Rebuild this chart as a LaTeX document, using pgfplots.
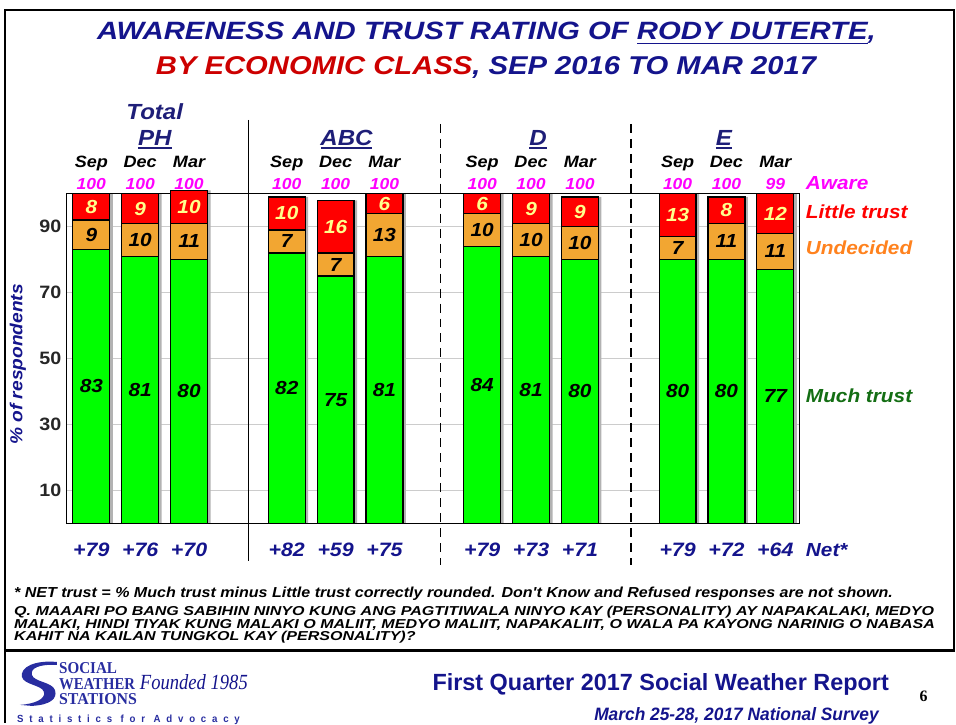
\documentclass[border=0pt]{standalone}
\usepackage{graphicx}
\usepackage{pgfplots}
\pgfplotsset{compat=1.18}
\usepackage{pgfplotstable}
\usepackage{fontspec}
\setmainfont{Liberation Sans}[FakeStretch=1.1]
\newfontfamily\plainsans{Liberation Sans}
\newfontfamily\qfont{Liberation Sans}[FakeStretch=1.24]
\newfontfamily\serifb{Liberation Serif}
\newcommand\fs[1]{\fontsize{#1}{#1}\selectfont}
\definecolor{navy}{RGB}{20,20,140}
\definecolor{tred}{RGB}{204,0,0}
\definecolor{bgreen}{RGB}{0,255,0}
\definecolor{borange}{RGB}{242,166,50}
\definecolor{bred}{RGB}{255,0,0}
\definecolor{lyellow}{RGB}{255,255,140}
\definecolor{mag}{RGB}{255,0,255}
\definecolor{dgreen}{RGB}{20,110,20}
\definecolor{uorange}{RGB}{255,130,30}
\definecolor{grp}{RGB}{30,30,120}
\definecolor{swsblue}{RGB}{40,45,160}

\pgfplotstableread{
x g u l aware net
0 83 9 8 100 79
1 81 10 9 100 76
2 80 11 10 100 70
4 82 7 10 100 82
5 75 7 16 100 59
6 81 13 6 100 75
8 84 10 6 100 79
9 81 10 9 100 73
10 80 10 9 100 71
12 80 7 13 100 79
13 80 11 8 100 72
14 77 11 12 99 64
}\data

\pgfplotsset{base/.style={at={(67bp,-524bp)}, anchor=south west, scale only axis,
  width=734bp, height=330bp, xmin=-0.5, xmax=14.5, ymin=0, ymax=100, clip=false}}

\begin{document}
\begin{tikzpicture}
\begin{scope}[x=1bp,y=-1bp]
\path (0,0) rectangle (956,724);
\end{scope}

% grid + shadows
\begin{axis}[base, ybar, bar width=37bp,
  ytick={10,30,50,70,90}, yticklabels={}, xtick=\empty, major tick length=0,
  axis line style={draw=none}, ymajorgrids, grid style={gray!40, line width=0.9bp}]
\addplot[fill=gray!60, draw=none, bar shift=3bp] table[x=x, y expr=\thisrow{g}+\thisrow{u}+\thisrow{l}] {\data};
\end{axis}

% stacked bars
\begin{axis}[base, ybar stacked, bar width=37bp,
  /pgf/number format/assume math mode=true,
  ytick={10,30,50,70,90}, major tick length=0,
  axis line style={black, line width=0.8bp},
  yticklabel style={font=\bfseries\fs{18}, text=black!85, xshift=-2bp},
  xtick={0,1,2,4,5,6,8,9,10,12,13,14},
  xticklabels={Sep,Dec,Mar,Sep,Dec,Mar,Sep,Dec,Mar,Sep,Dec,Mar},
  xticklabel pos=right,
  xticklabel style={anchor=base, yshift=26bp, font=\bfseries\itshape\fs{16.5}, text=black}]
\addplot[fill=bgreen, draw=black, line width=1.2bp] table[x=x, y=g] {\data};
\addplot[fill=borange, draw=black, line width=1.2bp] table[x=x, y=u] {\data};
\addplot[fill=bred, draw=black, line width=1.2bp] table[x=x, y=l] {\data};
\end{axis}

% labels
\begin{axis}[base, hide axis, point meta=explicit symbolic]
\addplot[draw=none, nodes near coords,
  every node near coord/.append style={anchor=center, font=\bfseries\itshape\fs{19}, text=black}]
  table[x=x, y expr=\thisrow{g}/2, meta=g] {\data};
\addplot[draw=none, nodes near coords,
  every node near coord/.append style={anchor=center, font=\bfseries\itshape\fs{19}, text=black}]
  table[x=x, y expr=\thisrow{g}+\thisrow{u}/2, meta=u] {\data};
\addplot[draw=none, nodes near coords,
  every node near coord/.append style={anchor=center, font=\bfseries\itshape\fs{19}, text=lyellow}]
  table[x=x, y expr=\thisrow{g}+\thisrow{u}+\thisrow{l}/2, meta=l] {\data};
\addplot[draw=none, nodes near coords,
  every node near coord/.append style={anchor=base, font=\bfseries\itshape\fs{16}, text=mag}]
  table[x=x, y expr=101.2, meta=aware] {\data};
\addplot[draw=none, nodes near coords={+\pgfplotspointmeta},
  every node near coord/.append style={anchor=base, font=\bfseries\itshape\fs{19.5}, text=navy}]
  table[x=x, y expr=-10, meta=net] {\data};
\end{axis}

\begin{scope}[x=1bp,y=-1bp]
% slide frame
\draw[line width=2bp] (5,724) -- (5,10) -- (955,10) -- (955,652);
\draw[line width=3bp] (4,652) -- (956,652);
% title
\node[anchor=base west, inner sep=0, text=navy] at (97,40)
  {\resizebox{780bp}{17.5bp}{\plainsans\bfseries\itshape AWARENESS AND TRUST RATING OF \underline{RODY DUTERTE},}};
\node[anchor=base west, inner sep=0] at (156,75)
  {\resizebox{661bp}{18bp}{\plainsans\bfseries\itshape\textcolor{tred}{BY ECONOMIC CLASS}\textcolor{navy}{, SEP 2016 TO MAR 2017}}};
% group names
\begin{scope}[every node/.style={anchor=base, inner sep=0, text=grp, font=\bfseries\itshape\fs{22}}]
\node at (155,120) {Total};
\node at (155,146) {PH};
\node at (347,146) {ABC};
\node at (539,146) {D};
\node at (725,146) {E};
\end{scope}
\draw[grp, line width=2bp] (138,148.5) -- (172,148.5) (322,148.5) -- (373,148.5)
  (530,148.5) -- (548,148.5) (717,148.5) -- (733,148.5);
% separators
\draw[line width=1.5bp] (249,120) -- (249,562);
\draw[line width=1.5bp, dash pattern=on 9bp off 6bp] (441,124) -- (441,566);
\draw[line width=1.5bp, dash pattern=on 9bp off 6bp] (632,124) -- (632,566);
% y label
\node[rotate=90, text=navy, font=\bfseries\itshape\fs{17.5}] at (18,365) {\% of respondents};
% right labels
\begin{scope}[every node/.style={anchor=base west, inner sep=0, font=\bfseries\itshape\fs{19}}]
\node[text=mag] at (807,190) {Aware};
\node[text=bred] at (807,219) {Little trust};
\node[text=uorange] at (807,255) {Undecided};
\node[text=dgreen] at (807,403) {Much trust};
\node[text=navy] at (807,557) {Net*};
\end{scope}
% footnotes
\node[anchor=base west, inner sep=0] at (14,598)
  {\resizebox{880bp}{10.5bp}{\plainsans\bfseries\itshape * NET trust = \% Much trust minus Little trust correctly rounded.  Don't Know and Refused responses  are not shown.}};
\begin{scope}[every node/.style={anchor=base west, inner sep=0, font=\qfont\bfseries\itshape\fs{13}}]
\node at (14,616) {Q. MAAARI PO BANG SABIHIN NINYO KUNG ANG PAGTITIWALA NINYO KAY (PERSONALITY) AY NAPAKALAKI, MEDYO};
\node at (14,629) {MALAKI, HINDI TIYAK KUNG MALAKI O MALIIT, MEDYO MALIIT, NAPAKALIIT, O WALA PA KAYONG NARINIG O NABASA};
\node at (14,642) {KAHIT NA KAILAN TUNGKOL KAY (PERSONALITY)?};
\end{scope}
% footer
\fill[swsblue] (57,663) .. controls (35,661) and (20,668) .. (22,678) .. controls (24,686) and (42,686) .. (44,693)
  .. controls (46,700) and (35,705) .. (20,706) -- (32,707) .. controls (50,706) and (58,700) .. (55,691)
  .. controls (52,683) and (34,683) .. (32,676) .. controls (30,669) and (40,665) .. (57,666) -- cycle;
\begin{scope}[every node/.style={anchor=base west, inner sep=0, text=swsblue}]
\node at (59,675) {\resizebox{58bp}{11bp}{\serifb\bfseries SOCIAL}};
\node at (59,691) {\resizebox{76bp}{11bp}{\serifb\bfseries WEATHER}};
\node at (59,706) {\resizebox{78bp}{11bp}{\serifb\bfseries STATIONS}};
\node[text=navy] at (140,691) {\resizebox{108bp}{15bp}{\serifb\itshape Founded 1985}};
\node at (17,723.5) {\resizebox{223bp}{7.5bp}{\plainsans\bfseries\addfontfeature{LetterSpace=60}Statistics for Advocacy}};
\end{scope}
\node[anchor=base west, inner sep=0, text=navy] at (433,692)
  {\resizebox{457bp}{17bp}{\plainsans\bfseries First Quarter 2017 Social Weather Report}};
\node[anchor=base west, inner sep=0, text=navy] at (595,722)
  {\resizebox{285bp}{13bp}{\plainsans\bfseries\itshape March 25-28, 2017 National Survey}};
\node[font=\serifb\bfseries\fs{16}] at (925,697) {6};
\end{scope}
\end{tikzpicture}
\end{document}
